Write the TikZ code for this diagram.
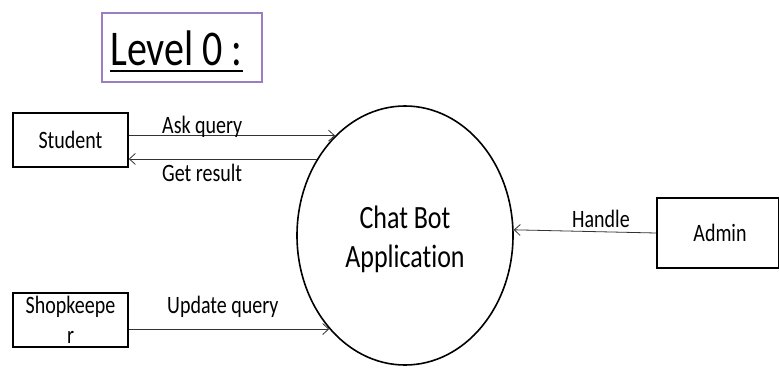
\documentclass[tikz,border=0pt]{standalone}
\usepackage{fontspec}
\setmainfont{Carlito}[Ligatures=NoCommon]
\usetikzlibrary{shapes.geometric,arrows.meta}
\definecolor{framepurple}{HTML}{9A7FC0}
\definecolor{flowgray}{HTML}{333333}
% narrow, tall lettering
\newcommand{\tall}[1]{\scalebox{1}[1.25]{#1}}
\tikzset{
  entity/.style={draw, line width=1.6pt, rectangle, inner sep=0pt,
    font=\fontsize{20}{30}\selectfont, align=center},
  process/.style={draw, line width=1.6pt, ellipse, inner sep=0pt},
  processtext/.style={font=\fontsize{26}{39}\selectfont, inner sep=0pt, anchor=base},
  flow/.style={draw=flowgray, line width=0.8pt,
    -{Straight Barb[length=6pt,width=11pt,line width=0.8pt]}},
  flowlabel/.style={font=\fontsize{20}{24}\selectfont, inner sep=0pt, anchor=base west},
}
\begin{document}
\begin{tikzpicture}[x=1pt,y=-1pt]
\useasboundingbox (0,0) rectangle (779,367);

% heading
\node[draw=framepurple, line width=1.4pt, minimum width=160pt, minimum height=69pt,
  inner sep=0pt] (titlebox) at (182,47.5) {};
\node[font=\fontsize{40}{48}\selectfont, inner sep=0pt, anchor=base] (lvl) at (176.5,65) {\tall{Level 0 :}};
\draw[line width=2pt] ([yshift=-6pt]lvl.base west) -- ([yshift=-6pt]lvl.base east);

% external entities and the process
\node[entity, minimum width=115pt, minimum height=54pt] (student) at (70.5,140) {\tall{Student}};
\node[entity, minimum width=115pt, minimum height=54pt] (shop) at (70.5,320) {\tall{Shopkeepe}\\\tall{r}};
\node[entity, minimum width=122pt, minimum height=70pt] (admin) at (718,233) {\hspace*{4pt}\tall{Admin}};
\node[process, minimum width=216pt, minimum height=259pt] (bot) at (405,235.5) {};
\node[processtext] (botname) at (405,228) {\tall{Chat Bot}};
\node[processtext] (botkind) at (405,267) {\tall{Application}};

% data flows
\draw[flow] (student.east |- bot.125.4) -- (bot.125.4);
\draw[flow] (bot.139.4) -- (student.east |- bot.139.4);
\draw[flow] (shop.east |- bot.231.9) -- (bot.231.9);
\draw[flow] (admin.west) -- (bot.3.4);

% flow labels
\node[flowlabel] (lask) at (162,133) {\tall{Ask query}};
\node[flowlabel] (lget) at (162,181) {\tall{Get result}};
\node[flowlabel] (lupd) at (167,313) {\tall{Update query}};
\node[flowlabel] (lhan) at (572,227) {\tall{Handle}};
\end{tikzpicture}
\end{document}
